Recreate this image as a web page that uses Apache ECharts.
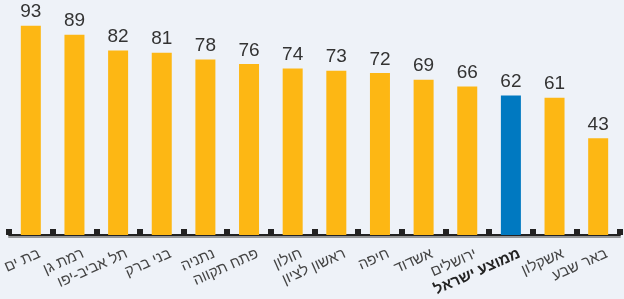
<!DOCTYPE html>
<html>
<head>
<meta charset="utf-8">
<script src="https://cdn.jsdelivr.net/npm/echarts@6/dist/echarts.min.js"></script>
<style>
  html, body { margin: 0; padding: 0; background: #EEF2F8; }
  #chart { width: 624px; height: 299px; }
</style>
</head>
<body>
<div id="chart"></div>
<script>
// ערים
var cities = [
    "בת ים", "רמת גן", "תל אביב-יפו", "בני ברק", "נתניה", "פתח תקווה", "חולון",
    "ראשון לציון", "חיפה", "אשדוד", "ירושלים", "ממוצע ישראל", "אשקלון", "באר שבע"
];
var values = [93, 89, 82, 81, 78, 76, 74, 73, 72, 69, 66, 62, 61, 43];
var avgName = "ממוצע ישראל";

var orange = "#FDB714",
    blue = "#0079C1";

var chart = echarts.init(document.getElementById("chart"));

var barData = values.map(function(v, i) {
    return {
        value: v,
        itemStyle: { color: cities[i] === avgName ? blue : orange }
    };
});

var option = {
    backgroundColor: "#EEF2F8",
    animation: false,
    grid: { left: 9, right: 4, top: 10, bottom: 64, containLabel: false, outerBoundsMode: "none" },
    xAxis: {
        type: "category",
        data: cities,
        boundaryGap: true,
        axisLine: {
            lineStyle: {
                color: "#222",
                width: 2,
                shadowColor: "rgba(90,90,90,0.6)",
                shadowOffsetY: 2
            }
        },
        axisTick: {
            show: true,
            inside: true,
            length: 6,
            lineStyle: { color: "#222", width: 6 }
        },
        axisLabel: {
            interval: 0,
            rotate: 24,
            margin: 6,
            align: "right",
            verticalAlign: "top",
            padding: [6, -3, 0, 0],
            fontFamily: "Arial, 'Liberation Sans', sans-serif",
            fontSize: 15,
            lineHeight: 17,
            color: "#444",
            formatter: function(v) {
                return v === avgName ? "{b|" + v + "}" : v;
            },
            rich: {
                b: {
                    fontWeight: "bold",
                    color: "#222",
                    fontSize: 15,
                    lineHeight: 17,
                    fontFamily: "Arial, 'Liberation Sans', sans-serif"
                }
            }
        }
    },
    yAxis: {
        type: "value",
        min: 0,
        max: 100,
        show: false,
        splitLine: { show: false }
    },
    series: [{
        type: "bar",
        data: barData,
        barWidth: 20,
        label: {
            show: true,
            position: "top",
            distance: 4,
            fontFamily: "Arial, 'Liberation Sans', sans-serif",
            fontSize: 19,
            color: "#333"
        }
    }]
};

chart.setOption(option);
</script>
</body>
</html>
